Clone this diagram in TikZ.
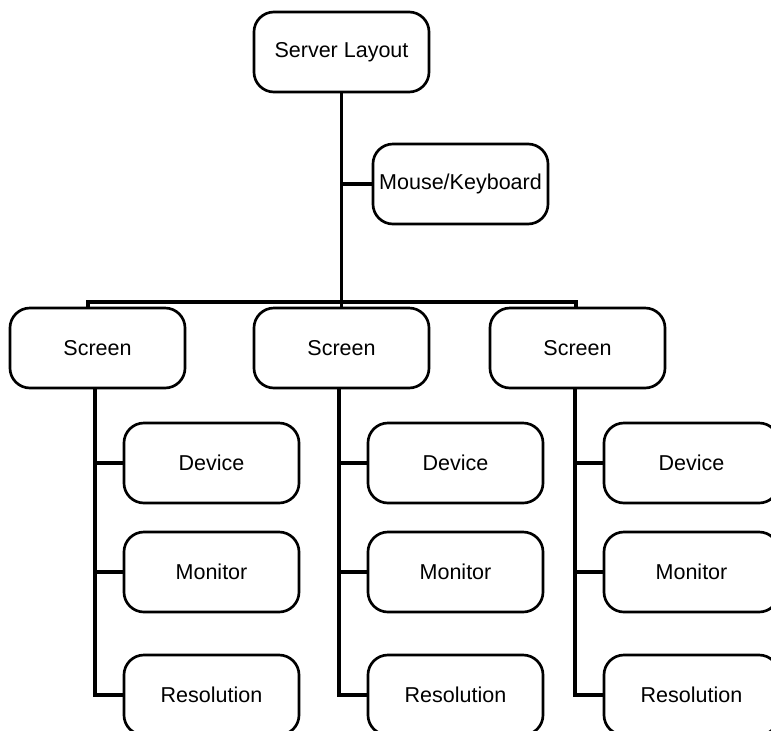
\documentclass[tikz,border=0pt]{standalone}
\usepackage{fontspec}
\setmainfont{Liberation Sans}
\tikzset{
  box/.style={draw, line width=1.9pt, rounded corners=0.5cm, minimum width=4.375cm, minimum height=2cm, font=\fontsize{15.3}{18}\selectfont},
  link/.style={line width=2.3pt}
}
\begin{document}
\begin{tikzpicture}[x=0.025cm,y=-0.025cm]
    \useasboundingbox (0,0) rectangle (771,731);
    \clip (0,0) rectangle (771,731);
    \node[box] (server) at (341.5,52) {Server Layout};
    \node[box] (mouse) at (460.5,184) {Mouse/Keyboard};
    \coordinate (bus) at (341.5,302);
    \foreach \n/\x in {a/97.5,b/341.5,c/577.5}
    {
    \node[box] (scr\n) at (\x,348) {Screen};
    \node[box] (dev\n) at (\x+114,463) {Device};
    \node[box] (mon\n) at (\x+114,572) {Monitor};
    \node[box] (res\n) at (\x+114,695) {Resolution};
    \draw[link] ([xshift=-0.06cm]scr\n.south) |- (res\n.west);
    \draw[link] (dev\n.west) -- ([xshift=-0.06cm]dev\n.west -| scr\n.south);
    \draw[link] (mon\n.west) -- ([xshift=-0.06cm]mon\n.west -| scr\n.south);
    }
    \draw[link] (server.south) -- (scrb.north);
    \draw[link] (mouse.west) -- (mouse.west -| server.south);
    \draw[link] ([xshift=-0.24cm]scra.north) |- (bus) -| ([xshift=-0.04cm]scrc.north);
\end{tikzpicture}
\end{document}
